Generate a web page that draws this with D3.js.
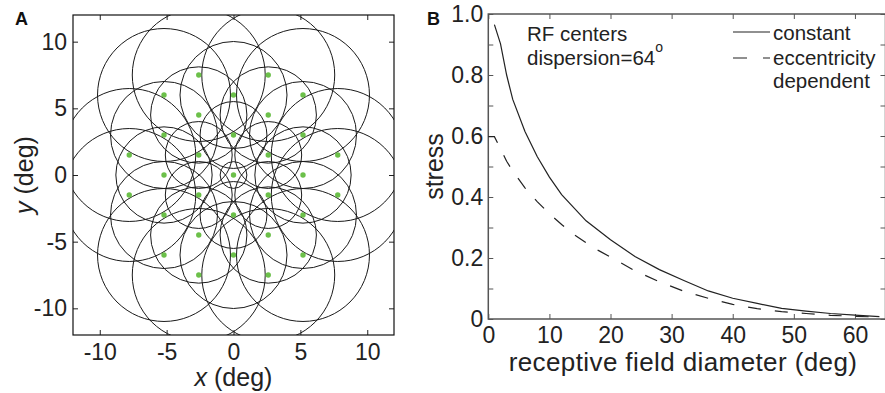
<!DOCTYPE html>
<html>
<head>
<meta charset="utf-8">
<script src="https://cdn.jsdelivr.net/npm/d3@7/dist/d3.min.js"></script>
<style>
  html, body { margin: 0; padding: 0; background: #fff; }
  svg { display: block; font-family: "Liberation Sans", Arial, Helvetica, sans-serif; }
</style>
</head>
<body>
<svg id="fig" width="885" height="393"></svg>
<script>
// Panel A: receptive-field centres on a hexagonal lattice (deg) and their radii (deg)
const rfX = [0,
  0, 2.598, 2.598, 0, -2.598, -2.598,
  5.196, 2.598, -2.598, -5.196, -2.598, 2.598,
  0, 5.196, 5.196, 0, -5.196, -5.196,
  2.598, 5.196, 7.794, 7.794, 5.196, 2.598, -2.598, -5.196, -7.794, -7.794, -5.196, -2.598];
const rfY = [0,
  3, 1.5, -1.5, -3, -1.5, 1.5,
  0, 4.5, 4.5, 0, -4.5, -4.5,
  6, 3, -3, -6, -3, 3,
  7.5, 6, 1.5, -1.5, -6, -7.5, -7.5, -6, -1.5, 1.5, 6, 7.5];
const rfRadius = [1,
  2.5, 2.5, 2.5, 2.5, 2.5, 2.5,
  3.6, 3.6, 3.6, 3.6, 3.6, 3.6,
  4, 4, 4, 4, 4, 4,
  4.97, 4.97, 4.97, 4.97, 4.97, 4.97, 4.97, 4.97, 4.97, 4.97, 4.97, 4.97];
const ticksA = [-10, -5, 0, 5, 10];

// Panel B: stress vs receptive field diameter
const diamConst = [1, 2, 3, 4, 6, 8, 10, 12, 16, 20, 24, 28, 32, 36, 40, 44, 48, 52, 56, 60, 64];
const stressConst = [0.965, 0.902, 0.80, 0.72, 0.615, 0.533, 0.465, 0.408, 0.322, 0.26, 0.205,
  0.162, 0.126, 0.092, 0.068, 0.051, 0.035, 0.026, 0.018, 0.013, 0.008];
const diamEcc = [0, 1, 2, 3, 4, 6, 8, 10, 12, 14, 16, 18, 20, 24, 28, 32, 36, 40, 44, 48, 52, 56, 60, 64];
const stressEcc = [0.598, 0.598, 0.558, 0.517, 0.485, 0.43, 0.385, 0.345, 0.31, 0.277, 0.25, 0.225,
  0.203, 0.158, 0.122, 0.091, 0.068, 0.048, 0.034, 0.024, 0.018, 0.012, 0.009, 0.006];
const xTicksB = [0, 10, 20, 30, 40, 50, 60];
const yTicksB = [0, 0.1, 0.2, 0.3, 0.4, 0.5, 0.6, 0.7, 0.8, 0.9, 1.0];

const svg = d3.select("#fig");
const INK = "#222";
const TICK_FONT = 23;
const TITLE_FONT = 25;
const plain = d => String(d);   // hyphen-minus, as in the printed figure

function styleAxis(g, color, labelled) {
  g.select(".domain").remove();
  g.selectAll(".tick line").attr("stroke", color).attr("stroke-width", 1);
  g.selectAll(".tick text")
    .attr("fill", "#222")
    .style("font-size", TICK_FONT + "px");
  if (!labelled) g.selectAll(".tick text").remove();
}

// ---------- Panel A ----------
const xA = d3.scaleLinear().domain([-12, 12]).range([73, 394]);
const yA = d3.scaleLinear().domain([-12, 12]).range([335, 15]);
const pxPerDeg = xA(1) - xA(0);

svg.append("defs").append("clipPath").attr("id", "clipA")
  .append("rect")
  .attr("x", xA(-12)).attr("y", yA(12))
  .attr("width", xA(12) - xA(-12)).attr("height", yA(-12) - yA(12));

const gA = svg.append("g");
const plotA = gA.append("g").attr("clip-path", "url(#clipA)");

plotA.selectAll("circle.rf")
  .data(d3.range(rfX.length))
  .join("circle")
  .attr("class", "rf")
  .attr("cx", i => xA(rfX[i]))
  .attr("cy", i => yA(rfY[i]))
  .attr("r", i => rfRadius[i] * pxPerDeg)
  .attr("fill", "none")
  .attr("stroke", "#1a1a1a")
  .attr("stroke-width", 1);

plotA.selectAll("circle.ctr")
  .data(d3.range(rfX.length))
  .join("circle")
  .attr("class", "ctr")
  .attr("cx", i => xA(rfX[i]))
  .attr("cy", i => yA(rfY[i]))
  .attr("r", 2.7)
  .attr("fill", "#6cc04a");

gA.append("g").attr("transform", `translate(0,${yA(-12)})`)
  .call(d3.axisBottom(xA).tickValues(ticksA).tickFormat(plain).tickSize(-5).tickPadding(9).tickSizeOuter(0))
  .call(g => styleAxis(g, INK, true));
gA.append("g").attr("transform", `translate(0,${yA(12)})`)
  .call(d3.axisTop(xA).tickValues(ticksA).tickSize(-5).tickSizeOuter(0))
  .call(g => styleAxis(g, INK, false));
gA.append("g").attr("transform", `translate(${xA(-12)},0)`)
  .call(d3.axisLeft(yA).tickValues(ticksA).tickFormat(plain).tickSize(-5).tickPadding(6).tickSizeOuter(0))
  .call(g => styleAxis(g, INK, true));
gA.append("g").attr("transform", `translate(${xA(12)},0)`)
  .call(d3.axisRight(yA).tickValues(ticksA).tickSize(-5).tickSizeOuter(0))
  .call(g => styleAxis(g, INK, false));

gA.append("rect")
  .attr("x", xA(-12)).attr("y", yA(12))
  .attr("width", xA(12) - xA(-12)).attr("height", yA(-12) - yA(12))
  .attr("fill", "none").attr("stroke", "#111").attr("stroke-width", 1.2);

const xTitleA = gA.append("text")
  .attr("x", xA(0)).attr("y", 386)
  .attr("text-anchor", "middle")
  .style("font-size", TITLE_FONT + "px").attr("fill", "#222");
xTitleA.append("tspan").style("font-style", "italic").text("x");
xTitleA.append("tspan").text(" (deg)");

const yTitleA = gA.append("text")
  .attr("transform", `translate(33,${yA(0)}) rotate(-90)`)
  .attr("text-anchor", "middle")
  .style("font-size", TITLE_FONT + "px").attr("fill", "#222");
yTitleA.append("tspan").style("font-style", "italic").text("y");
yTitleA.append("tspan").text(" (deg)");

gA.append("text").attr("x", 15).attr("y", 25)
  .style("font-size", "18px").style("font-weight", "bold").attr("fill", "#111")
  .text("A");

// ---------- Panel B ----------
const xB = d3.scaleLinear().domain([0, 65]).range([488.3, 885.5]);
const yB = d3.scaleLinear().domain([0, 1]).range([319, 14]);
const FRAME_B = "#555";
const gB = svg.append("g");

gB.append("g").attr("transform", `translate(0,${yB(0)})`)
  .call(d3.axisBottom(xB).tickValues(xTicksB).tickFormat(plain).tickSize(-5).tickPadding(7.5).tickSizeOuter(0))
  .call(g => styleAxis(g, FRAME_B, true));
gB.append("g").attr("transform", `translate(0,${yB(1)})`)
  .call(d3.axisTop(xB).tickValues(xTicksB).tickSize(-5).tickSizeOuter(0))
  .call(g => styleAxis(g, FRAME_B, false));
gB.append("g").attr("transform", `translate(${xB(0)},0)`)
  .call(d3.axisLeft(yB).tickValues(yTicksB).tickSize(-5).tickPadding(5).tickSizeOuter(0)
    .tickFormat(d => {
      const k = Math.round(d * 10);
      if (k % 2 !== 0) return "";
      return k === 0 ? "0" : d3.format(".1f")(d);
    }))
  .call(g => styleAxis(g, FRAME_B, true));
gB.append("g").attr("transform", `translate(${xB(65)},0)`)
  .call(d3.axisRight(yB).tickValues(yTicksB).tickSize(-5).tickSizeOuter(0))
  .call(g => styleAxis(g, FRAME_B, false));

gB.append("rect")
  .attr("x", xB(0)).attr("y", yB(1))
  .attr("width", xB(65) - xB(0)).attr("height", yB(0) - yB(1))
  .attr("fill", "none").attr("stroke", FRAME_B).attr("stroke-width", 1.5);

const line = d3.line().x(d => xB(d[0])).y(d => yB(d[1]));

gB.append("path")
  .datum(d3.zip(diamConst, stressConst))
  .attr("d", line)
  .attr("fill", "none").attr("stroke", INK).attr("stroke-width", 1.2);

gB.append("path")
  .datum(d3.zip(diamEcc, stressEcc))
  .attr("d", line)
  .attr("fill", "none").attr("stroke", INK).attr("stroke-width", 1.2)
  .attr("stroke-dasharray", "13,14");

// annotation and legend
const LEG_FONT = 20.5;
gB.append("text").attr("x", 527).attr("y", 40.5)
  .style("font-size", LEG_FONT + "px").attr("fill", "#222").text("RF centers");
const disp = gB.append("text").attr("x", 527).attr("y", 65)
  .style("font-size", LEG_FONT + "px").attr("fill", "#222");
disp.append("tspan").text("dispersion=64");
disp.append("tspan").attr("dy", -13).style("font-size", "14px").text("o");

gB.append("line").attr("x1", 733).attr("x2", 770).attr("y1", 32).attr("y2", 32)
  .attr("stroke", INK).attr("stroke-width", 1.2);
gB.append("line").attr("x1", 733).attr("x2", 770).attr("y1", 58).attr("y2", 58)
  .attr("stroke", INK).attr("stroke-width", 1.2).attr("stroke-dasharray", "14,16");
gB.append("text").attr("x", 773).attr("y", 40)
  .style("font-size", LEG_FONT + "px").attr("fill", "#222").text("constant");
gB.append("text").attr("x", 773).attr("y", 64.5)
  .style("font-size", LEG_FONT + "px").attr("fill", "#222").text("eccentricity");
gB.append("text").attr("x", 773).attr("y", 88)
  .style("font-size", LEG_FONT + "px").attr("fill", "#222").text("dependent");

gB.append("text").attr("x", 683).attr("y", 370.5)
  .attr("text-anchor", "middle")
  .style("font-size", "26px").style("letter-spacing", "0.4px").attr("fill", "#222")
  .text("receptive field diameter (deg)");
gB.append("text")
  .attr("transform", `translate(443,${yB(0.5)}) rotate(-90)`)
  .attr("text-anchor", "middle")
  .style("font-size", TITLE_FONT + "px").attr("fill", "#222")
  .text("stress");

gB.append("text").attr("x", 427).attr("y", 25)
  .style("font-size", "18px").style("font-weight", "bold").attr("fill", "#111")
  .text("B");
</script>
</body>
</html>
